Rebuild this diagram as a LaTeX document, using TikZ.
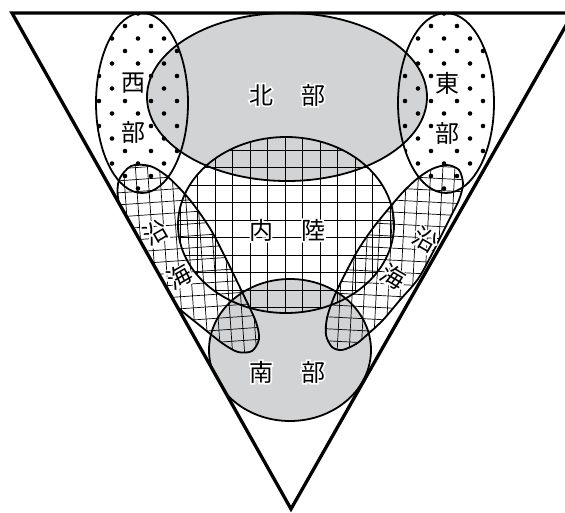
\documentclass[tikz,border=0pt]{standalone}
\usepackage{fontspec}
\newfontfamily\jpfont{Noto Sans CJK JP}
\newfontfamily\jprim[FakeBold=14]{Noto Sans CJK JP}
\usetikzlibrary{calc}
\definecolor{regiongray}{RGB}{209,211,212}

% white rim behind a glyph
\newcommand{\halo}[1]{\leavevmode\rlap{\jprim\color{white}#1}#1}

\begin{document}
\begin{tikzpicture}[x=1pt, y=-1pt,
    outline/.style={line width=1.8pt},
    gridline/.style={line width=0.7pt},
    tag/.style={font=\jpfont\fontsize{24}{24}\selectfont, inner sep=0pt}
]
\useasboundingbox (0,0) rectangle (565,512);

% Regions
\def\frametri{(12,13) -- (573,13) -- (291,509) -- cycle}
\def\northreg{(287,97) ellipse [x radius=140, y radius=84]}
\def\southreg{(290,350) ellipse [x radius=81, y radius=71]}
\def\westreg{(142,103) ellipse [x radius=46, y radius=90]}
\def\eastreg{(446,103) ellipse [x radius=48, y radius=90]}
\def\inlandreg{(286,225) ellipse [x radius=108, y radius=88]}
\def\coastwreg{plot[smooth cycle] coordinates {(131,166) (150,166) (168,177)
    (190,200) (211,230) (230,267) (245,298) (256,322) (259,339) (252,351)
    (238,352) (222,343) (198,324) (183,312) (172,302) (158,280) (140,248)
    (124,218) (118,198) (119,180)}}
\def\coastereg{plot[smooth cycle] coordinates {(447,165) (459,170) (463,184)
    (459,200) (452,214) (445,228) (433,252) (418,279) (400,300) (383,320)
    (368,334) (356,344) (342,350) (332,347) (326,335) (327,318) (334,297)
    (345,274) (358,250) (373,228) (390,207) (404,191) (418,178) (432,169)}}

% Gray regions
\fill[regiongray] \northreg;
\fill[regiongray] \southreg;

% Dots: west and east
\begin{scope}
  \clip \westreg;
  \foreach \j in {0,...,15}
    \foreach \i in {-1,...,3}
      \fill ({112+13*mod(\j,2)+26*\i},{13.5+12.5*\j}) circle [radius=2.3];
\end{scope}
\begin{scope}
  \clip \eastreg;
  \foreach \j in {0,...,15}
    \foreach \i in {-1,...,3}
      \fill ({418+13*mod(\j,2)+26*\i},{13.5+12.5*\j}) circle [radius=2.3];
\end{scope}

% Grid: inland
\begin{scope}
  \clip \inlandreg;
  \foreach \k in {-7,...,7} {
    \draw[gridline] ({285+17.5*\k},130) -- ({285+17.5*\k},320);
    \draw[gridline] (170,{185+17.5*\k}) -- (400,{185+17.5*\k});
  }
\end{scope}

% Grid: coast, west and east
\begin{scope}
  \clip \frametri;
  \clip \coastwreg;
  \begin{scope}[rotate around={4:(190,260)}]
    \foreach \k in {-12,...,12} {
      \draw[gridline] ({190+12*\k},120) -- ({190+12*\k},400);
      \draw[gridline] (50,{260+12*\k}) -- (330,{260+12*\k});
    }
  \end{scope}
\end{scope}
\begin{scope}
  \clip \frametri;
  \clip \coastereg;
  \begin{scope}[rotate around={-3:(390,260)}]
    \foreach \k in {-12,...,12} {
      \draw[gridline] ({390+12*\k},120) -- ({390+12*\k},400);
      \draw[gridline] (250,{260+12*\k}) -- (530,{260+12*\k});
    }
  \end{scope}
\end{scope}

% Outlines
\begin{scope}
  \clip \frametri;
  \draw[outline] \northreg;
  \draw[outline] \southreg;
  \draw[outline] \westreg;
  \draw[outline] \eastreg;
  \draw[outline] \inlandreg;
  \draw[outline] \coastwreg;
  \draw[outline] \coastereg;
\end{scope}

% Frame
\draw[line width=3.3pt] \frametri;

% Labels
\node[tag] (west1) at (133,83) {\halo{西}};
\node[tag] (west2) at (133,132) {\halo{部}};
\node[tag] (north1) at (261,95) {\halo{北}};
\node[tag] (north2) at (313,95) {\halo{部}};
\node[tag] (east1) at (447,83) {\halo{東}};
\node[tag] (east2) at (447,133) {\halo{部}};
\node[tag] (inland1) at (261,230) {\halo{内}};
\node[tag] (inland2) at (313,230) {\halo{陸}};
\node[tag, rotate=30] (coastw1) at (155,233) {\halo{沿}};
\node[tag, rotate=30] (coastw2) at (179,277) {\halo{海}};
\node[tag, rotate=-30] (coaste1) at (425,240) {\halo{沿}};
\node[tag, rotate=-30] (coaste2) at (393,277) {\halo{海}};
\node[tag] (south1) at (261,372) {\halo{南}};
\node[tag] (south2) at (313,372) {\halo{部}};

\end{tikzpicture}
\end{document}
